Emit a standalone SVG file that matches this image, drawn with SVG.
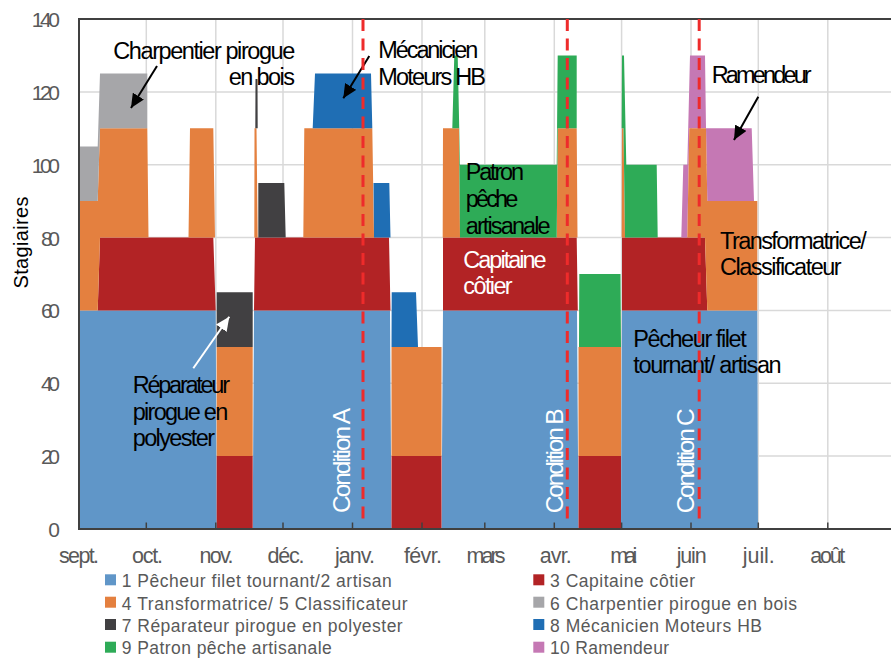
<svg xmlns="http://www.w3.org/2000/svg" width="891" height="660" viewBox="0 0 891 660">
<style>
text{font-family:"Liberation Sans Narrow","Arial Narrow","Liberation Sans",Arial,sans-serif}
.grid{stroke:#D9D9D9;stroke-width:1.5;fill:none}
.axis{stroke:#404040;stroke-width:2;fill:none}
.tick{stroke:#404040;stroke-width:1.5}
.ylab{font-size:21px;fill:#595959;text-anchor:end}
.mlab{font-size:21.5px;fill:#595959;text-anchor:middle}
.leg{font-size:17.5px;fill:#595959}
.ann{font-size:23.5px;fill:#000}
.annw{font-size:23.5px;fill:#fff}
.cond{font-size:24.5px;fill:#fff}
.s1{fill:#6096C8}.s3{fill:#B22325}.s4{fill:#E4803F}.s6{fill:#A6A6A9}
.s7{fill:#414042}.s8{fill:#1F6EB4}.s9{fill:#2EAB57}.s10{fill:#C578B4}
.cdl{stroke:#EE2B2B;stroke-width:3;stroke-dasharray:12 7.5;fill:none}
.arr{stroke:#000;stroke-width:2;fill:none}
.arrw{stroke:#fff;stroke-width:2;fill:none}
</style>
<defs>
<marker id="ah" markerUnits="userSpaceOnUse" markerWidth="15" markerHeight="13" refX="14" refY="6.5" orient="auto"><path d="M0,0 L14,6.5 L0,13 Z" fill="#000"/></marker>
<marker id="ahw" markerUnits="userSpaceOnUse" markerWidth="15" markerHeight="13" refX="14" refY="6.5" orient="auto"><path d="M0,0 L14,6.5 L0,13 Z" fill="#fff"/></marker>
</defs>
<rect width="891" height="660" fill="#fff"/>
<g id="grid">
<path class="grid" d="M79,456.1H891M79,383.3H891M79,310.4H891M79,237.6H891M79,164.7H891M79,91.9H891"/>
<path class="grid" d="M146.3,19V529M215.8,19V529M283,19V529M352.5,19V529M422,19V529M484.8,19V529M554.3,19V529M621.6,19V529M691,19V529M758.3,19V529M827.8,19V529"/>
</g>
<g id="series">
<path id="s1" class="s1" d="M79,529L79,310.4L215.7,310.4L216.7,529ZM252.7,529L254,310.4L390,310.4L391.5,529ZM441.5,529L443,310.4L577,310.4L578.5,529ZM621,529L622,310.4L757.3,310.4L758,529Z"/>
<path id="s3" class="s3" d="M97.7,310.4L100,237.6L213.3,237.6L215.7,310.4ZM216.7,529L216.7,456.1L252.7,456.1L252.7,529ZM254,310.4L255,237.6L389,237.6L390.5,310.4ZM391.5,529L391.5,456.1L441.5,456.1L441.5,529ZM443,310.4L443,237.6L576.7,237.6L577.8,310.4ZM578.5,529L578.5,456.1L621,456.1L621,529ZM622,310.4L622,237.6L705,237.6L707.3,310.4Z"/>
<path id="s10" class="s10" d="M681.3,237.6L683.3,164.7L687.3,164.7L690,55.4L705,55.4L706,128.3L751.7,128.3L754,201.1L707.3,201.1L706,128.3L689.3,128.3L687.3,237.6Z"/>
<path id="s4" class="s4" d="M79,310.4L79,201.1L97.7,201.1L100,128.3L147.3,128.3L148.5,237.6L100,237.6L97.7,310.4ZM188.5,237.6L190,128.3L213.3,128.3L215,237.6ZM216.7,456.1L216.7,346.9L252.7,346.9L252.7,456.1ZM254.3,237.6L254.5,128.3L256.5,128.3L257.7,237.6ZM303.3,237.6L304.3,128.3L372.3,128.3L374,237.6ZM391.5,456.1L391.5,346.9L441.5,346.9L441.5,456.1ZM442.7,237.6L443,128.3L459,128.3L460,237.6ZM556.7,237.6L557.7,128.3L576.7,128.3L577.5,237.6ZM578.5,456.1L578.5,346.9L621,346.9L621,456.1ZM621.7,237.6L622,128.3L623.5,128.3L625,237.6ZM687.3,237.6L689.3,128.3L706,128.3L707.3,201.1L757.3,201.1L757.3,310.4L707.3,310.4L705,237.6Z"/>
<path id="s6" class="s6" d="M79,201.1L79,146.5L97.7,146.5L100,73.6L147.3,73.6L147.3,128.3L100,128.3L97.7,201.1Z"/>
<path id="s7" class="s7" d="M216.7,346.9L216.7,292.2L252.7,292.2L252.7,346.9ZM255.3,128.3L255.5,79L257.5,79L257.7,128.3ZM258.3,237.6L258.3,183L284.3,183L285.7,237.6Z"/>
<path id="s8" class="s8" d="M312.7,128.3L315,73.6L371,73.6L372.3,128.3ZM374,237.6L373.5,183L389.3,183L390.5,237.6ZM391.5,346.9L391.7,292.2L416,292.2L418,346.9Z"/>
<path id="s9" class="s9" d="M452.3,128.3L454.3,55.4L457.7,55.4L460,164.7L556.7,164.7L557.7,55.4L576.7,55.4L576.7,128.3L557.7,128.3L556.7,237.6L460,237.6L459,128.3ZM579,346.9L579.3,274L620.5,274L621,346.9ZM621.7,128.3L622,55.4L624,55.4L626.3,164.7L656.7,164.7L657.7,237.6L625,237.6L623.5,128.3Z"/>
</g>
<g id="axes">
<path class="tick" d="M146.3,522.5V529M215.8,522.5V529M283,522.5V529M352.5,522.5V529M422,522.5V529M484.8,522.5V529M554.3,522.5V529M621.6,522.5V529M691,522.5V529M758.3,522.5V529M827.8,522.5V529"/>
<path class="axis" d="M79,19H891M79,18V530M78,529H891"/>
</g>
<g id="ylabels">
<text class="ylab" x="60" y="27" textLength="28.3">140</text>
<text class="ylab" x="60" y="99.9" textLength="28.3">120</text>
<text class="ylab" x="60" y="172.7" textLength="28.3">100</text>
<text class="ylab" x="60" y="245.6" textLength="19">80</text>
<text class="ylab" x="60" y="318.4" textLength="19">60</text>
<text class="ylab" x="60" y="391.3" textLength="19">40</text>
<text class="ylab" x="60" y="464.1" textLength="19">20</text>
<text class="ylab" x="60" y="537" textLength="9.5">0</text>
<text font-size="20" fill="#000" text-anchor="middle" transform="translate(27.6,242.5) rotate(-90)" textLength="92">Stagiaires</text>
</g>
<g id="xlabels">
<text class="mlab" x="79" y="563" textLength="40">sept.</text>
<text class="mlab" x="147.5" y="563" textLength="31">oct.</text>
<text class="mlab" x="216.5" y="563" textLength="34">nov.</text>
<text class="mlab" x="286" y="563" textLength="37">déc.</text>
<text class="mlab" x="355" y="563" textLength="40">janv.</text>
<text class="mlab" x="423" y="563" textLength="38">févr.</text>
<text class="mlab" x="486" y="563" textLength="39">mars</text>
<text class="mlab" x="555.8" y="563" textLength="32">avr.</text>
<text class="mlab" x="623.7" y="563" textLength="27">mai</text>
<text class="mlab" x="691.7" y="563" textLength="30">juin</text>
<text class="mlab" x="758.8" y="563" textLength="32">juil.</text>
<text class="mlab" x="827.8" y="563" textLength="35">août</text>
</g>
<g id="legend">
<rect class="s1" x="105" y="574.3" width="11" height="11"/>
<text class="leg" x="121.7" y="587" textLength="270">1 Pêcheur filet tournant/2 artisan</text>
<rect class="s4" x="105" y="596.7" width="11" height="11"/>
<text class="leg" x="121.7" y="609.5" textLength="286">4 Transformatrice/ 5 Classificateur</text>
<rect class="s7" x="105" y="619" width="11" height="11"/>
<text class="leg" x="121.7" y="632" textLength="281">7 Réparateur pirogue en polyester</text>
<rect class="s9" x="105" y="641.7" width="11" height="11"/>
<text class="leg" x="121.7" y="654" textLength="210">9 Patron pêche artisanale</text>
<rect class="s3" x="533.3" y="574.3" width="11" height="11"/>
<text class="leg" x="550" y="587" textLength="145">3 Capitaine côtier</text>
<rect class="s6" x="533.3" y="596.7" width="11" height="11"/>
<text class="leg" x="550" y="609.5" textLength="247">6 Charpentier pirogue en bois</text>
<rect class="s8" x="533.3" y="619" width="11" height="11"/>
<text class="leg" x="550" y="632" textLength="212">8 Mécanicien Moteurs HB</text>
<rect class="s10" x="533.3" y="641.7" width="11" height="11"/>
<text class="leg" x="550" y="654" textLength="119">10 Ramendeur</text>
</g>
<g id="annotations">
<text class="ann" x="113.3" y="59" textLength="182">Charpentier pirogue</text>
<text class="ann" x="228.7" y="85" textLength="66.3">en bois</text>
<text class="ann" x="378.3" y="58.3" textLength="100">Mécanicien</text>
<text class="ann" x="378.3" y="85" textLength="107.7">Moteurs HB</text>
<text class="ann" x="711.7" y="83.3" textLength="100">Ramendeur</text>
<text class="ann" x="465.7" y="180" textLength="58.3">Patron</text>
<text class="ann" x="465.7" y="207" textLength="52.6">pêche</text>
<text class="ann" x="465.7" y="234" textLength="85">artisanale</text>
<text class="annw" x="463.3" y="268" textLength="83.4">Capitaine</text>
<text class="annw" x="463.3" y="294" textLength="49.4">côtier</text>
<text class="ann" x="720" y="249.3" textLength="146.7">Transformatrice/</text>
<text class="ann" x="720" y="275.3" textLength="121.7">Classificateur</text>
<text class="ann" x="633.3" y="346.7" textLength="113.4">Pêcheur filet</text>
<text class="ann" x="633.3" y="372.7" textLength="148.4">tournant/ artisan</text>
<text class="ann" x="132.7" y="393.3" textLength="97.3">Réparateur</text>
<text class="ann" x="132.7" y="420" textLength="95.6">pirogue en</text>
<text class="ann" x="132.7" y="446" textLength="82.3">polyester</text>
<text class="cond" transform="translate(350,513) rotate(-90)" textLength="105">Condition A</text>
<text class="cond" transform="translate(562.7,513.3) rotate(-90)" textLength="105">Condition B</text>
<text class="cond" transform="translate(694,513.3) rotate(-90)" textLength="105">Condition C</text>
</g>
<g id="connectors">
<line class="arr" x1="157" y1="66" x2="131" y2="108" marker-end="url(#ah)"/>
<line class="arr" x1="369.3" y1="56" x2="343.3" y2="98.3" marker-end="url(#ah)"/>
<line class="arr" x1="758.3" y1="96.7" x2="734" y2="140" marker-end="url(#ah)"/>
<line class="arrw" x1="193.3" y1="368.3" x2="229.3" y2="316.7" marker-end="url(#ahw)"/>
<path class="cdl" d="M363,19V522M567.3,19V522M699.2,19V522"/>
</g>
</svg>
